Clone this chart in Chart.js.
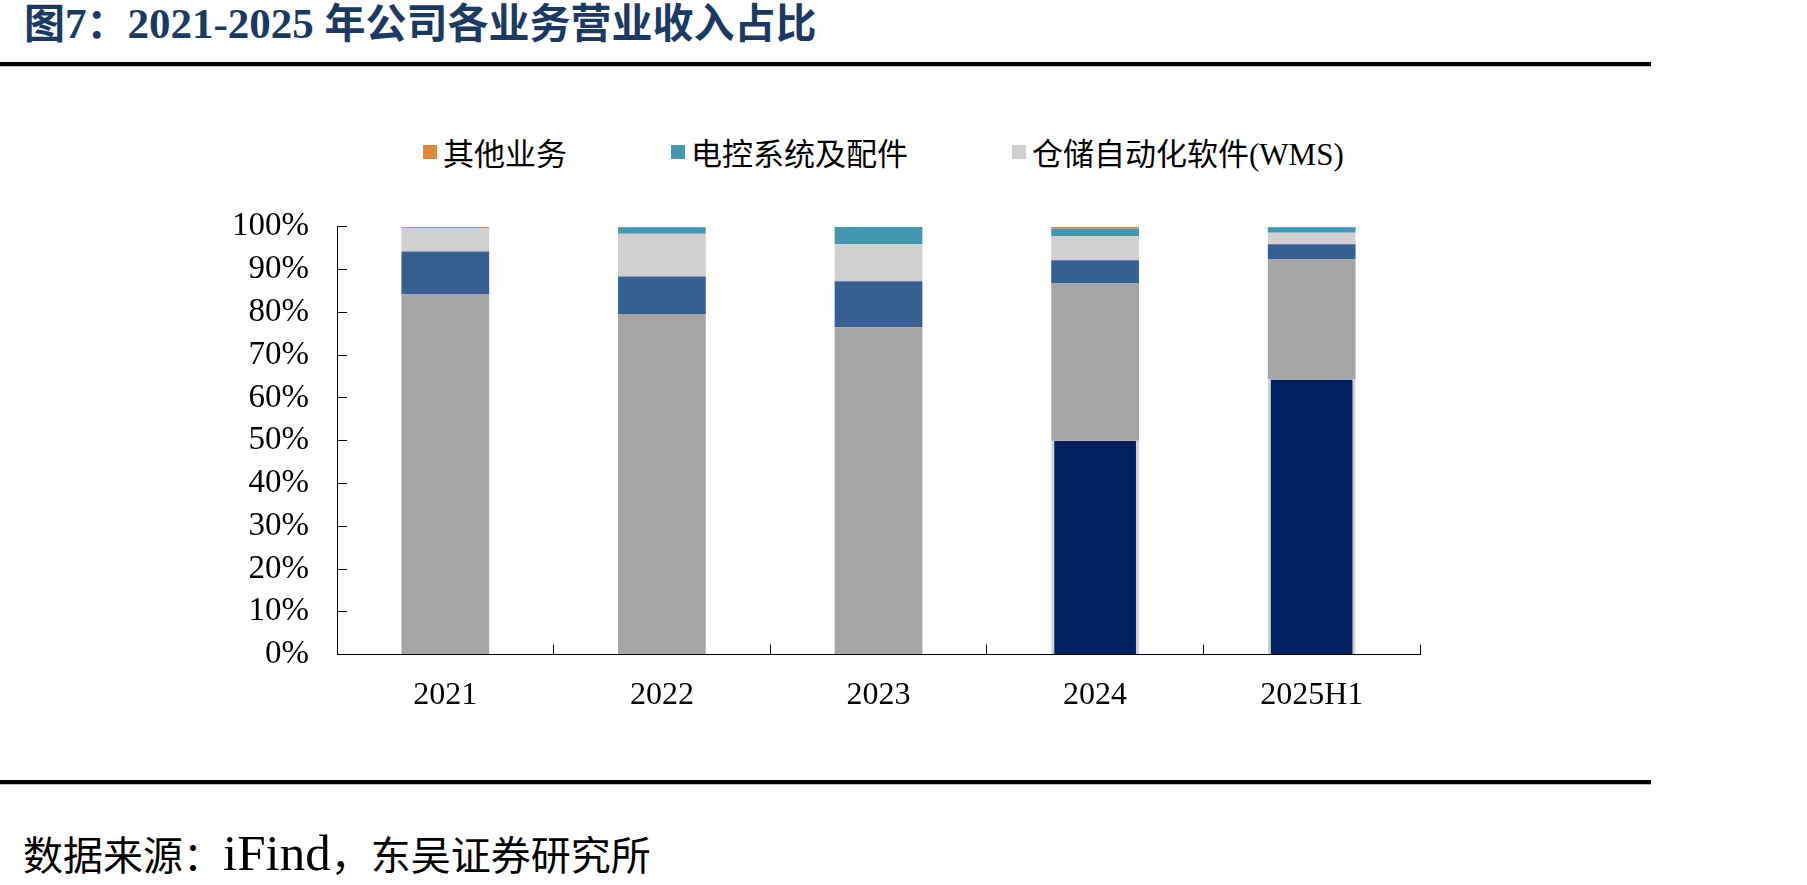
<!DOCTYPE html>
<html>
<head>
<meta charset="utf-8">
<script src="https://cdn.jsdelivr.net/npm/chart.js@4.4.1/dist/chart.umd.min.js"></script>
<style>
  body { margin: 0; width: 1807px; height: 885px; background: #fff; position: relative; overflow: hidden;
         font-family: 'Liberation Serif', 'Noto Sans CJK SC', serif; color: #000; }
  #title { position: absolute; left: 24px; top: -1px; height: 50px; line-height: 50px; font-size: 41px; font-weight: bold; color: #1b3a63; white-space: nowrap; }
  #title .lat { font-size: 43px; }
  .rule { position: absolute; left: 0; width: 1651px; height: 4px; background: #000; border-bottom: 1px solid #bbb; }
  #legend { position: absolute; left: 423px; top: 129px; display: flex; gap: 104px; font-size: 31px; white-space: nowrap; }
  .item { display: flex; align-items: center; }
  .box { width: 14px; height: 14px; margin-right: 6px; }
  #wrap { position: absolute; left: 0; top: 169px; }
  #source { position: absolute; left: 23px; top: 826px; height: 54px; line-height: 54px; font-size: 40px; white-space: nowrap; }
  #source .lat { font-size: 51px; }
</style>
</head>
<body>
<div id="title">图<span class="lat">7</span>：<span class="lat">2021-2025 </span>年公司各业务营业收入占比</div>
<div class="rule" style="top:62px"></div>
<div id="legend"></div>
<div id="wrap"><canvas id="mixChart" width="1807" height="622"></canvas></div>
<div class="rule" style="top:780px"></div>
<div id="source">数据来源：<span class="lat">iFind</span>，东吴证券研究所</div>

<script>
// data (percent of revenue)
var categories = ['2021', '2022', '2023', '2024', '2025H1'];
var systemShare = [0, 0, 0, 50.0, 64.3];
var equipShare = [84.2, 79.6, 76.5, 36.8, 28.1];
var partsShare = [10.0, 8.8, 10.8, 5.4, 3.5];
var wmsShare = [5.5, 10.0, 8.6, 5.6, 2.7];
var elecShare = [0, 1.3, 4.1, 1.8, 1.1];
var otherShare = [0.3, 0.3, 0, 0.4, 0.3];
var yTicks = [0, 10, 20, 30, 40, 50, 60, 70, 80, 90, 100];

var font = "'Liberation Serif', 'Noto Sans CJK SC', serif";

var datasets = [
  { label: '智能物流系统', data: systemShare, backgroundColor: '#002060',
    borderColor: '#d0d0d0', borderWidth: { left: 3, right: 3, top: 0, bottom: 0 }, legend: false },
  { label: '物流装备', data: equipShare, backgroundColor: '#a5a5a5', legend: false },
  { label: '配套设备', data: partsShare, backgroundColor: '#376092', legend: false },
  { label: '仓储自动化软件(WMS)', data: wmsShare, backgroundColor: '#d0cfd1', legend: true },
  { label: '电控系统及配件', data: elecShare, backgroundColor: '#4298b0', legend: true },
  { label: '其他业务', data: otherShare, backgroundColor: '#e0883e', legend: true }
];

// legend (top series first, like the original)
var legendEl = document.getElementById('legend');
datasets.slice().reverse().forEach(function (d) {
  if (!d.legend) return;
  var item = document.createElement('div');
  item.className = 'item';
  item.innerHTML = '<span class="box" style="background:' + d.backgroundColor + '"></span><span>' + d.label + '</span>';
  legendEl.appendChild(item);
});

var ctx = document.getElementById('mixChart').getContext('2d');
var mixChart = new Chart(ctx, {
  type: 'bar',
  data: {
    labels: categories,
    datasets: datasets.map(function (d) {
      return {
        label: d.label,
        data: d.data,
        backgroundColor: d.backgroundColor,
        borderColor: d.borderColor || d.backgroundColor,
        borderWidth: d.borderWidth || 0,
        barPercentage: 0.405,
        categoryPercentage: 1
      };
    })
  },
  options: {
    responsive: false,
    animation: false,
    layout: { padding: { top: 11, right: 387, bottom: 44, left: 0 } },
    plugins: { legend: { display: false }, tooltip: { enabled: false } },
    scales: {
      x: {
        stacked: true,
        grid: { drawOnChartArea: false, tickLength: -10, color: '#000', offset: true },
        border: { color: '#000', width: 1 },
        ticks: { color: '#000', font: { family: font, size: 32 }, padding: 32 }
      },
      y: {
        stacked: true,
        min: 0,
        max: 100,
        afterBuildTicks: function (scale) { scale.ticks = yTicks.map(function (v) { return { value: v }; }); },
        afterFit: function (scale) { scale.width = 337; },
        grid: { drawOnChartArea: false, tickLength: -10, color: '#000' },
        border: { color: '#000', width: 1 },
        ticks: { color: '#000', font: { family: font, size: 33 }, padding: 38, autoSkip: false,
                 callback: function (v) { return v + '%'; } }
      }
    }
  }
});
</script>
</body>
</html>
